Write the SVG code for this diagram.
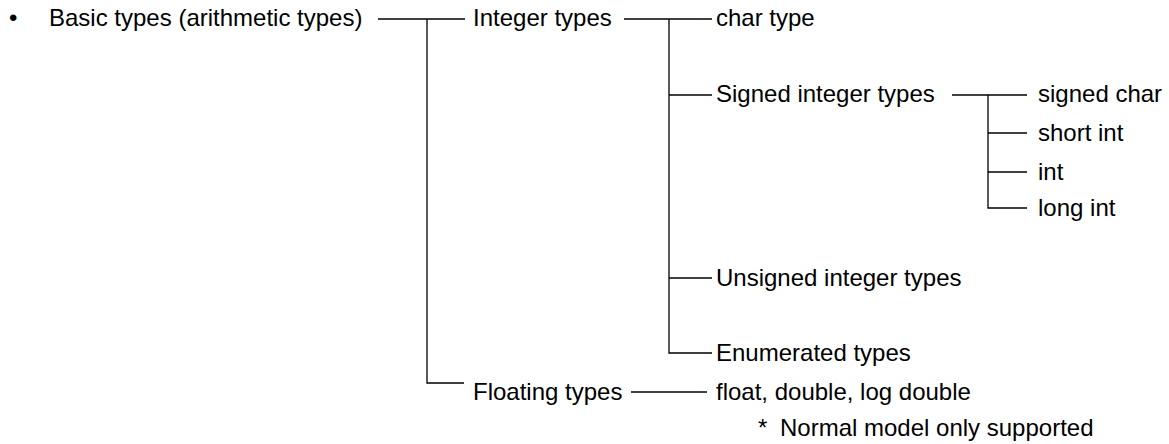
<svg xmlns="http://www.w3.org/2000/svg" width="1169" height="444" viewBox="0 0 1169 444">
  <style>
    text { font-family: "Liberation Sans", Arial, sans-serif; font-size: 24px; fill: #000; }
    .link { stroke: #000; stroke-width: 1.3; fill: none; }
  </style>
  <rect width="1169" height="444" fill="#fff"/>

  <!-- tree connectors -->
  <g id="connectors" class="link">
    <path d="M378 19 H465"/>
    <path d="M427 19 V383 H464"/>
    <path d="M624 19 H712"/>
    <path d="M669 19 V353 H712"/>
    <path d="M669 95 H712"/>
    <path d="M669 278 H712"/>
    <path d="M952 95 H1027"/>
    <path d="M988 95 V208 H1027"/>
    <path d="M988 133 H1027"/>
    <path d="M988 172 H1027"/>
    <path d="M631 392 H707"/>
  </g>

  <g id="basic-types">
    <text x="9" y="26">•</text>
    <text x="49" y="26">Basic types (arithmetic types)</text>
  </g>
  <g id="integer-types"><text x="473" y="26">Integer types</text></g>
  <g id="floating-types"><text x="473" y="400">Floating types</text></g>
  <g id="char-type"><text x="716" y="26">char type</text></g>
  <g id="signed-integer-types"><text x="716" y="102">Signed integer types</text></g>
  <g id="unsigned-integer-types"><text x="716" y="286">Unsigned integer types</text></g>
  <g id="enumerated-types"><text x="716" y="361">Enumerated types</text></g>
  <g id="signed-char"><text x="1038" y="102">signed char</text></g>
  <g id="short-int"><text x="1038" y="141">short int</text></g>
  <g id="int"><text x="1038" y="180">int</text></g>
  <g id="long-int"><text x="1038" y="216">long int</text></g>
  <g id="float-double"><text x="716" y="400">float, double, log double</text></g>
  <g id="note">
    <text x="758" y="436">*</text>
    <text x="780" y="436">Normal model only supported</text>
  </g>
</svg>
